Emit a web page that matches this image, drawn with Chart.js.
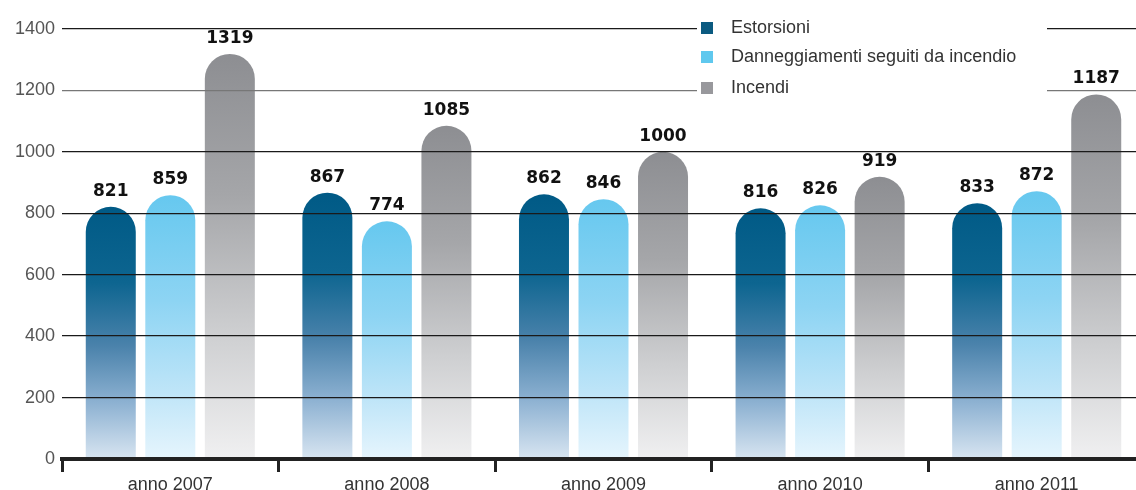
<!DOCTYPE html>
<html>
<head>
<meta charset="utf-8">
<script src="https://cdn.jsdelivr.net/npm/chart.js@4/dist/chart.umd.min.js"></script>
<style>
  html, body { margin:0; padding:0; background:#fff; overflow:hidden }
  #wrap { width:1136px; height:490px; overflow:hidden; position:relative }
  #box { width:1145px; height:490px; position:absolute; left:0; top:0 }
</style>
</head>
<body>
<div id="wrap"><div id="box"><canvas id="c"></canvas></div></div>
<script>
// data
const categories = ['anno 2007','anno 2008','anno 2009','anno 2010','anno 2011']
const estorsioni = [821, 867, 862, 816, 833]
const danneggiamenti = [859, 774, 846, 826, 872]
const incendi = [1319, 1085, 1000, 919, 1187]
const seriesNames = ['Estorsioni','Danneggiamenti seguiti da incendio','Incendi']
const yTicks = [0, 200, 400, 600, 800, 1000, 1200, 1400]

const legendColors = ['#0b5a80','#5fc8ee','#98989c']
const stopsDark  = [[0,'#005a86'],[0.3,'#0d6590'],[0.55,'#4a82ab'],[0.78,'#8eb2d2'],[1,'#d8e5f1']]
const stopsLight = [[0,'#66c8ef'],[0.4,'#8dd4f3'],[0.75,'#bfe5f8'],[1,'#e6f5fd']]
const stopsGray  = [[0,'#8d8e92'],[0.35,'#a5a6a9'],[0.7,'#cfd0d2'],[1,'#f0f0f1']]

// vertical gradient from the top of each bar down to zero
function barGradient(stops){
  return ctx => {
    const chart = ctx.chart
    if (!chart.chartArea || ctx.type !== 'data') return stops[0][1]
    const y = chart.scales.y
    const top = y.getPixelForValue(ctx.raw), bottom = y.getPixelForValue(0)
    const g = chart.ctx.createLinearGradient(0, top, 0, bottom)
    stops.forEach(s => g.addColorStop(s[0], s[1]))
    return g
  }
}

function makeSet(label, data, stops){
  return {
    label, data,
    backgroundColor: barGradient(stops),
    borderWidth: 0,
    borderSkipped: 'start',
    borderRadius: { topLeft: 25, topRight: 25, bottomLeft: 0, bottomRight: 0 },
    categoryPercentage: 0.8245,
    barPercentage: 0.84
  }
}

// value labels + legend box on top of everything
const overlay = {
  id: 'overlay',
  afterDraw(chart){
    const c = chart.ctx
    c.save()
    c.font = 'bold 17px "DejaVu Sans"'
    c.fillStyle = '#111'
    c.textAlign = 'center'
    c.textBaseline = 'alphabetic'
    chart.data.datasets.forEach((ds, i) => {
      chart.getDatasetMeta(i).data.forEach((bar, j) => {
        c.fillText(String(ds.data[j]), bar.x, bar.y - 11)
      })
    })
    // legend sits on a white patch that cuts the grid lines
    c.fillStyle = '#fff'
    c.fillRect(697, 8, 350, 94)
    const rows = [28, 57, 88]
    c.font = '18px "Liberation Sans"'
    c.textAlign = 'left'
    c.textBaseline = 'middle'
    seriesNames.forEach((name, i) => {
      c.fillStyle = legendColors[i]
      c.fillRect(701, rows[i] - 6, 12, 12)
      c.fillStyle = '#333'
      c.fillText(name, 731, rows[i])
    })
    c.restore()
  }
}

new Chart(document.getElementById('c'), {
  type: 'bar',
  data: {
    labels: categories,
    datasets: [
      makeSet(seriesNames[0], estorsioni, stopsDark),
      makeSet(seriesNames[1], danneggiamenti, stopsLight),
      makeSet(seriesNames[2], incendi, stopsGray)
    ]
  },
  options: {
    responsive: true,
    maintainAspectRatio: false,
    animation: false,
    layout: { padding: { top: 29, right: 0, left: 0, bottom: 0 } },
    plugins: { legend: { display: false }, tooltip: { enabled: false } },
    scales: {
      x: {
        offset: true,
        afterFit: s => { s.height = 31 },
        grid: { z: 1, offset: true, drawOnChartArea: false, drawTicks: true, tickLength: 13, lineWidth: 3, color: '#222' },
        border: { z: 1, display: true, width: 4, color: '#222' },
        ticks: { z: 1, color: '#333', font: { family: 'Liberation Sans', size: 18 }, padding: 2, maxRotation: 0 }
      },
      y: {
        min: 0, max: 1400,
        afterFit: s => { s.width = 62 },
        afterBuildTicks: s => { s.ticks = yTicks.map(v => ({ value: v })) },
        border: { display: false },
        grid: {
          z: 1,
          drawTicks: false,
          lineWidth: 1.3,
          color: c => c.tick && c.tick.value === 0 ? 'rgba(0,0,0,0)' : (c.tick && c.tick.value === 1200 ? '#777' : '#1a1a1a')
        },
        ticks: { color: '#555', font: { family: 'Liberation Sans', size: 18 }, padding: 7, callback: v => String(v) }
      }
    }
  },
  plugins: [overlay]
})
</script>
</body>
</html>
